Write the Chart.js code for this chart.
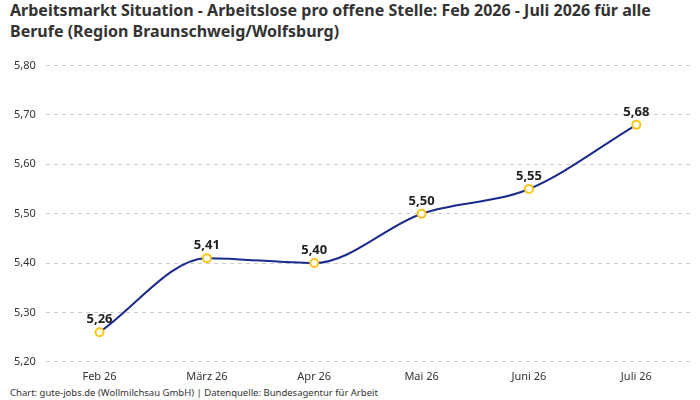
<!DOCTYPE html>
<html><head><meta charset="utf-8">
<script src="https://cdn.jsdelivr.net/npm/chart.js@4"></script>
<style>body{margin:0;background:#fff;font-family:"Noto Sans",sans-serif}
#t{position:absolute;left:10px;top:0px;font-size:16px;font-weight:bold;color:#333;line-height:21px;width:680px}
#f{position:absolute;left:10px;top:386px;font-size:9.5px;color:#333}</style></head><body>
<div id="t">Arbeitsmarkt Situation - Arbeitslose pro offene Stelle: Feb 2026 - Juli 2026 für alle Berufe (Region Braunschweig/Wolfsburg)</div>
<div style="position:absolute;left:0;top:49px;width:700px;height:334px"><canvas id="c"></canvas></div>
<div id="f">Chart: gute-jobs.de (Wollmilchsau GmbH) | Datenquelle: Bundesagentur für Arbeit</div>
<script>
const categories=["Feb 26","März 26","Apr 26","Mai 26","Juni 26","Juli 26"];
const values=[5.26,5.41,5.40,5.50,5.55,5.68];
const fmt=v=>v.toFixed(2).replace('.',',');
const labelsPlugin={id:'lbl',afterDatasetsDraw(ch){const ctx=ch.ctx;const m=ch.getDatasetMeta(0);ctx.save();ctx.font='bold 13px "Noto Sans"';ctx.fillStyle='#222';ctx.textAlign='center';ctx.textBaseline='bottom';m.data.forEach((p,i)=>ctx.fillText(fmt(values[i]),p.x,p.y-6));ctx.restore();}};
new Chart(document.getElementById('c'),{type:'line',data:{labels:categories,datasets:[{data:values,borderColor:'#1a2a8c',borderWidth:2,cubicInterpolationMode:'monotone',pointRadius:4,pointBorderWidth:2,pointBackgroundColor:'#fff',pointBorderColor:'#f5c518'}]},
options:{responsive:true,maintainAspectRatio:false,animation:false,layout:{padding:{left:4,right:10,top:5,bottom:0}},plugins:{legend:{display:false},tooltip:{enabled:false}},
scales:{x:{offset:true,grid:{display:false},border:{display:false},ticks:{padding:0,color:'#333',font:{size:11,family:'Noto Sans'}}},
y:{min:5.2,max:5.8,ticks:{stepSize:0.1,padding:10,color:'#333',font:{size:11,family:'Noto Sans'},callback:v=>fmt(v)},border:{display:false,dash:[4,4]},grid:{color:'#ccc',drawTicks:false}}}},plugins:[labelsPlugin]});
</script></body></html>
